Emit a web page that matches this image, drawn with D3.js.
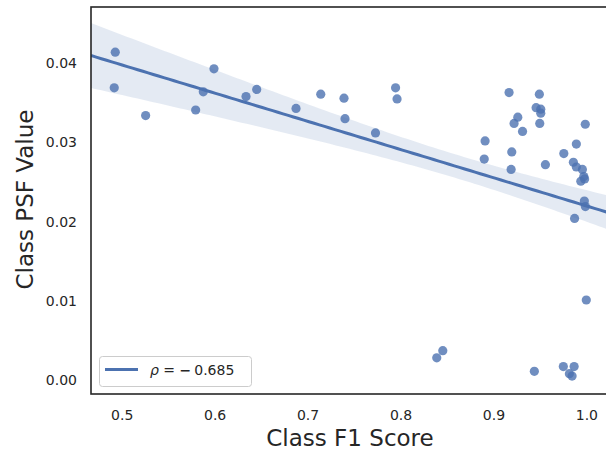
<!DOCTYPE html>
<html>
<head>
<meta charset="utf-8">
<script src="https://cdn.jsdelivr.net/npm/d3@7"></script>
<style>
  body { margin: 0; background: #fff; }
  text { font-family: "DejaVu Sans", sans-serif; }
</style>
</head>
<body>
<div id="chart"></div>
<script>
// Class F1 score per class
const f1Scores = [
  0.4931, 0.4920, 0.5258, 0.5993, 0.5878, 0.5796, 0.6338, 0.6453, 0.6876, 0.7142,
  0.7392, 0.7403, 0.7731, 0.7947, 0.7963, 0.9168, 0.9494, 0.9459, 0.9509, 0.9509,
  0.9262, 0.9222, 0.9313, 0.9498, 0.9988, 0.8910, 0.9197, 0.8901, 0.9190, 0.9559,
  0.9757, 0.9892, 0.9860, 0.9892, 0.9957, 0.9972, 0.9940, 0.9981, 0.9978, 0.9989,
  0.9873, 0.9999, 0.8455, 0.8390, 0.9440, 0.9752, 0.9868, 0.9817, 0.9846
];
// Class PSF value per class
const psfValues = [
  0.0414, 0.0369, 0.0334, 0.0393, 0.0364, 0.0341, 0.0358, 0.0367, 0.0343, 0.0361,
  0.0356, 0.0330, 0.0312, 0.0369, 0.0355, 0.0363, 0.0361, 0.0344, 0.0342, 0.0337,
  0.0332, 0.0324, 0.0314, 0.0324, 0.0323, 0.0302, 0.0288, 0.0279, 0.0266, 0.0272,
  0.0286, 0.0298, 0.0275, 0.0269, 0.0266, 0.0257, 0.0251, 0.0254, 0.0226, 0.0219,
  0.0204, 0.0101, 0.0037, 0.0028, 0.0011, 0.0017, 0.0017, 0.0008, 0.0005
];
const xTicks = [0.5, 0.6, 0.7, 0.8, 0.9, 1.0];
const yTicks = [0.00, 0.01, 0.02, 0.03, 0.04];
const rhoValue = "0.685";

const color = "#4c72b0";
const textColor = "#262626";

const svgWidth = 606, svgHeight = 453;
const margin = { top: 7, left: 91 };
const width = 519, height = 387;

const svg = d3.select("#chart")
  .append("svg")
  .attr("width", svgWidth)
  .attr("height", svgHeight);

const g = svg.append("g")
  .attr("transform", "translate(" + margin.left + "," + margin.top + ")");

const x = d3.scaleLinear().domain([0.467, 1.0254]).range([0, width]);
const y = d3.scaleLinear().domain([-0.00177, 0.04711]).range([height, 0]);

// Linear fit with 68% confidence band
const n = f1Scores.length;
const xbar = d3.mean(f1Scores), ybar = d3.mean(psfValues);
let sxx = 0, sxy = 0;
for (let i = 0; i < n; i++) {
  sxx += (f1Scores[i] - xbar) ** 2;
  sxy += (f1Scores[i] - xbar) * (psfValues[i] - ybar);
}
const slope = sxy / sxx;
const intercept = ybar - slope * xbar;
let sse = 0;
for (let i = 0; i < n; i++) {
  sse += (psfValues[i] - (intercept + slope * f1Scores[i])) ** 2;
}
const s = Math.sqrt(sse / (n - 2));
const tval = 1.0;

const grid = d3.range(0, 101).map(i => x.domain()[0] + (x.domain()[1] - x.domain()[0]) * i / 100);
const band = grid.map(v => {
  const yhat = intercept + slope * v;
  const se = s * Math.sqrt(1 / n + (v - xbar) ** 2 / sxx);
  return { x: v, lo: yhat - tval * se, hi: yhat + tval * se, y: yhat };
});

g.append("clipPath").attr("id", "plot-clip")
  .append("rect").attr("width", width).attr("height", height);

const plot = g.append("g").attr("clip-path", "url(#plot-clip)");

// Scatter points
plot.selectAll("circle")
  .data(f1Scores.map((v, i) => [v, psfValues[i]]))
  .enter()
  .append("circle")
  .attr("cx", d => x(d[0]))
  .attr("cy", d => y(d[1]))
  .attr("r", 4.6)
  .attr("fill", color)
  .attr("fill-opacity", 0.8);

plot.append("path")
  .datum(band)
  .attr("d", d3.area().x(d => x(d.x)).y0(d => y(d.lo)).y1(d => y(d.hi)))
  .attr("fill", color)
  .attr("fill-opacity", 0.15);

plot.append("path")
  .datum(band)
  .attr("d", d3.line().x(d => x(d.x)).y(d => y(d.y)))
  .attr("fill", "none")
  .attr("stroke", color)
  .attr("stroke-width", 3);

// Axes
const xAxis = g.append("g")
  .attr("transform", "translate(0," + height + ")")
  .call(d3.axisBottom(x).tickValues(xTicks).tickFormat(d3.format(".1f")).tickSize(0).tickPadding(16));
const yAxis = g.append("g")
  .call(d3.axisLeft(y).tickValues(yTicks).tickFormat(d3.format(".2f")).tickSize(0).tickPadding(14));

[xAxis, yAxis].forEach(ax => {
  ax.select(".domain").remove();
  ax.selectAll("text")
    .style("font-family", "DejaVu Sans")
    .style("font-size", "14px")
    .attr("fill", textColor);
});

// Frame
g.append("rect")
  .attr("width", width)
  .attr("height", height)
  .attr("fill", "none")
  .attr("stroke", textColor)
  .attr("stroke-width", 1.6);

// Axis labels
svg.append("text")
  .attr("x", 350)
  .attr("y", 446)
  .attr("text-anchor", "middle")
  .style("font-size", "23px")
  .attr("fill", textColor)
  .text("Class F1 Score");

svg.append("text")
  .attr("transform", "translate(33," + (margin.top + height / 2 - 1) + ") rotate(-90)")
  .attr("text-anchor", "middle")
  .style("font-size", "23px")
  .attr("fill", textColor)
  .text("Class PSF Value");

// Legend
const legend = g.append("g").attr("transform", "translate(8," + (height - 38) + ")");
legend.append("rect")
  .attr("x", 0.5).attr("y", 0.5)
  .attr("width", 152).attr("height", 30)
  .attr("rx", 3)
  .attr("fill", "#fff")
  .attr("fill-opacity", 0.8)
  .attr("stroke", "#cccccc");
legend.append("line")
  .attr("x1", 6).attr("x2", 39)
  .attr("y1", 13.5).attr("y2", 13.5)
  .attr("stroke", color)
  .attr("stroke-width", 3);
const lt = legend.append("text")
  .attr("x", 51).attr("y", 19)
  .style("font-size", "14px")
  .attr("fill", textColor);
lt.append("tspan").style("font-style", "italic").text("\u03c1");
lt.append("tspan").text(" = ");
lt.append("tspan").style("font-weight", "bold").text("\u2212");
lt.append("tspan").attr("dx", 3).text(rhoValue);
</script>
</body>
</html>
